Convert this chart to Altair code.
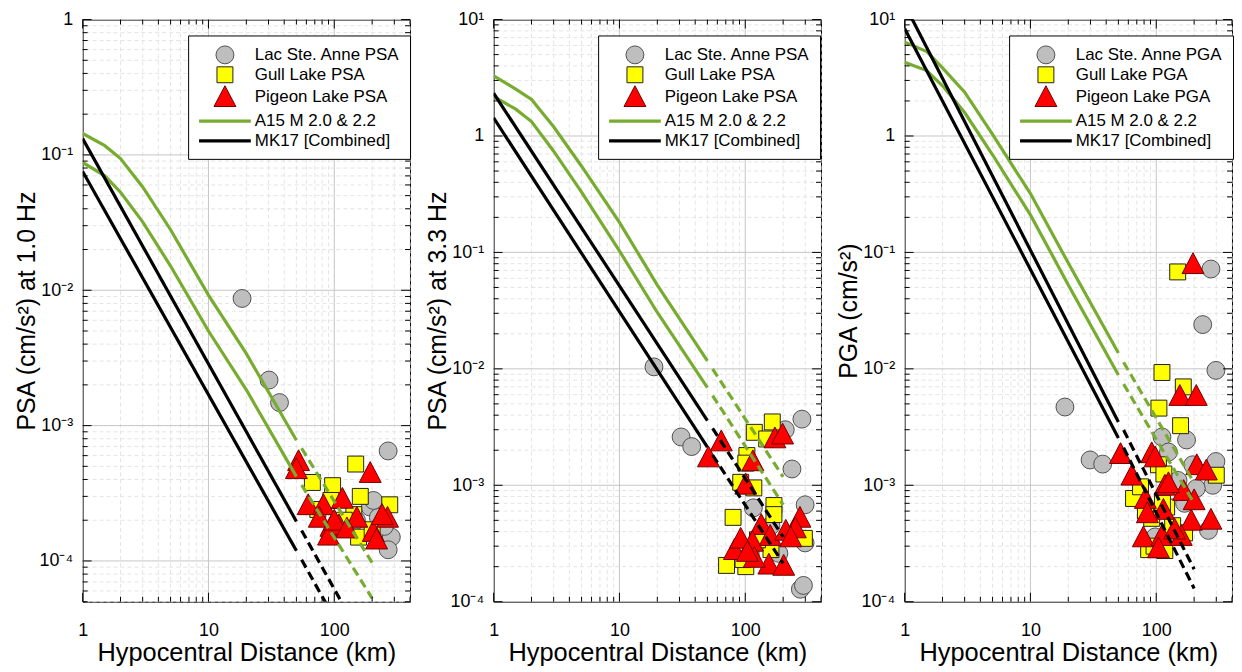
import altair as alt
import pandas as pd

FONT = "Liberation Sans"
W, H = 329, 585

# ---------------- axes / tick labels ----------------
X_DOMAIN = [1, 400]
X_LABEL_VALUES = [1, 10, 100]
X_LABELS = ["1", "10", "100"]
X_TITLE = "Hypocentral Distance (km)"

Y_DOMAIN_1 = [5e-5, 1]
Y_DOMAIN_2 = [1e-4, 10]
Y_DOMAIN_3 = [1e-4, 10]
Y_LABEL_VALUES_1 = [1e-4, 1e-3, 1e-2, 1e-1, 1]
Y_LABELS_1 = ["10⁻⁴", "10⁻³", "10⁻²", "10⁻¹", "1"]
Y_LABEL_VALUES_23 = [1e-4, 1e-3, 1e-2, 1e-1, 1, 10]
Y_LABELS_23 = ["10⁻⁴", "10⁻³", "10⁻²", "10⁻¹", "1", "10¹"]
Y_TITLES = ["PSA (cm/s²) at 1.0 Hz", "PSA (cm/s²) at 3.3 Hz", "PGA (cm/s²)"]

SERIES_1 = ["Lac Ste. Anne PSA", "Gull Lake PSA", "Pigeon Lake PSA", "A15 M 2.0 & 2.2", "MK17 [Combined]"]
SERIES_2 = ["Lac Ste. Anne PSA", "Gull Lake PSA", "Pigeon Lake PSA", "A15 M 2.0 & 2.2", "MK17 [Combined]"]
SERIES_3 = ["Lac Ste. Anne PGA", "Gull Lake PGA", "Pigeon Lake PGA", "A15 M 2.0 & 2.2", "MK17 [Combined]"]

# ---------------- observations ----------------
P1_LSA_D = [18.5, 30.3, 36.7, 268, 193, 224, 284, 268, 250, 150, 205]
P1_LSA_V = [8.7e-3, 2.17e-3, 1.48e-3, 6.5e-4, 2.5e-4, 2.1e-4, 1.5e-4, 1.21e-4, 1.8e-4, 2.0e-4, 2.8e-4]
P1_GL_D = [67, 97, 148, 161, 276, 143, 74, 156, 94, 120, 200]
P1_GL_V = [3.8e-4, 3.6e-4, 5.2e-4, 3.0e-4, 2.6e-4, 2.2e-4, 2.4e-4, 1.5e-4, 2.8e-4, 2.0e-4, 1.7e-4]
P1_PL_D = [52, 50, 193, 62, 82, 116, 151, 94, 109, 90, 204, 265, 76, 100, 126, 217, 240]
P1_PL_V = [5.5e-4, 4.8e-4, 4.5e-4, 2.6e-4, 2.6e-4, 2.9e-4, 2.1e-4, 1.8e-4, 1.85e-4, 1.55e-4,
           1.65e-4, 2.1e-4, 2.1e-4, 2.0e-4, 1.75e-4, 1.45e-4, 2.2e-4]

P2_LSA_D = [18.8, 30.9, 37.5, 282, 208, 235, 299, 116, 299, 274, 290, 185, 160]
P2_LSA_V = [0.0104, 2.6e-3, 2.15e-3, 3.7e-3, 3.0e-3, 1.38e-3, 6.8e-4, 6.4e-4, 3.2e-4, 1.28e-4, 1.38e-4, 2.6e-4, 4.5e-4]
P2_GL_D = [164, 118, 148, 103, 101, 92, 117, 169, 169, 80, 71, 101, 111, 160, 295, 125, 96]
P2_GL_V = [3.5e-3, 2.85e-3, 2.5e-3, 1.8e-3, 1.55e-3, 1.06e-3, 9.5e-4, 6.7e-4, 5.6e-4, 5.3e-4,
           2.05e-4, 2.0e-4, 2.6e-4, 2.8e-4, 3.5e-4, 3.4e-4, 2.3e-4]
P2_PL_D = [51, 64.5, 115, 172, 198, 101, 272, 250, 134, 114, 82, 92, 154, 202, 158, 210, 118, 104, 230]
P2_PL_V = [1.75e-3, 2.4e-3, 1.62e-3, 2.55e-3, 2.75e-3, 1.02e-3, 5.3e-4, 4.3e-4, 4.6e-4, 3.3e-4,
           2.8e-4, 3.5e-4, 2.1e-4, 2.05e-4, 3.7e-4, 4.1e-4, 2.4e-4, 2.7e-4, 3.6e-4]

P3_LSA_D = [18.8, 29.8, 37.5, 272, 234, 298, 174, 111, 125, 298, 281, 260, 168, 149, 208, 98, 195]
P3_LSA_V = [4.7e-3, 1.65e-3, 1.52e-3, 0.072, 0.024, 9.7e-3, 2.45e-3, 2.6e-3, 1.93e-3, 1.6e-3,
            1.0e-3, 4.1e-4, 7.0e-4, 1.1e-3, 9.4e-4, 3.6e-4, 1.5e-3]
P3_GL_D = [148, 111, 164, 105, 156, 300, 66, 75, 104, 115, 92, 87, 117, 168, 121, 112, 96, 82, 135]
P3_GL_V = [0.068, 9.3e-3, 7.0e-3, 4.6e-3, 3.25e-3, 1.22e-3, 7.7e-4, 9.7e-4, 1.5e-3, 1.25e-3,
           5.2e-4, 2.8e-4, 2.75e-4, 3.9e-4, 6.5e-4, 7.0e-4, 3.0e-4, 6.0e-4, 4.5e-4]
P3_PL_D = [196, 154, 208, 52, 92, 98, 64, 210, 250, 117, 165, 200, 82, 114, 85, 190, 272, 79, 111,
           158, 104, 125, 140]
P3_PL_V = [0.080, 5.9e-3, 5.9e-3, 1.87e-3, 1.9e-3, 1.75e-3, 1.22e-3, 1.5e-3, 1.35e-3, 1.0e-3,
           9.0e-4, 7.5e-4, 7.7e-4, 6.2e-4, 5.8e-4, 5.0e-4, 5.1e-4, 3.6e-4, 3.7e-4, 3.7e-4,
           2.9e-4, 1.05e-3, 4.2e-4]

# ---------------- model curves ----------------
A15_D = [1, 1.5, 2, 3, 5, 10, 20, 50]
MK_D = [1, 50]
EXT_D = [55, 200]

P1_A15_M20 = [0.088, 0.070, 0.053, 0.032, 0.0151, 0.0050, 0.00184, 4.2e-4]
P1_A15_M22 = [0.144, 0.117, 0.094, 0.058, 0.028, 0.0092, 0.0034, 7.8e-4]
P1_A15_M20_EXT = [3.64e-4, 5.3e-5]
P1_A15_M22_EXT = [6.8e-4, 9.7e-5]
P1_MK_M20 = [0.0755, 1.19e-4]
P1_MK_M22 = [0.132, 1.96e-4]
P1_MK_M20_EXT = [1.02e-4, 1.2e-5]
P1_MK_M22_EXT = [1.68e-4, 1.95e-5]

P2_A15_M20 = [2.18, 1.70, 1.33, 0.74, 0.33, 0.103, 0.0305, 0.0069]
P2_A15_M22 = [3.29, 2.53, 2.06, 1.20, 0.55, 0.181, 0.0524, 0.0117]
P2_A15_M20_EXT = [5.9e-3, 6.8e-4]
P2_A15_M22_EXT = [0.0100, 1.18e-3]
P2_MK_M20 = [1.43, 2.13e-3]
P2_MK_M22 = [2.33, 3.6e-3]
P2_MK_M20_EXT = [1.82e-3, 2.13e-4]
P2_MK_M22_EXT = [3.08e-3, 3.6e-4]

P3_A15_M20 = [4.3, 3.65, 2.7, 1.59, 0.69, 0.21, 0.0526, 8.85e-3]
P3_A15_M22 = [6.4, 5.3, 3.85, 2.38, 1.03, 0.32, 0.081, 0.0137]
P3_A15_M20_EXT = [7.4e-3, 7.0e-4]
P3_A15_M22_EXT = [0.0114, 1.05e-3]
P3_MK_M20 = [8.4, 2.55e-3]
P3_MK_M22 = [13.5, 3.5e-3]
P3_MK_M20_EXT = [2.1e-3, 1.3e-4]
P3_MK_M22_EXT = [2.98e-3, 1.9e-4]

# ---------------- styles ----------------
FILLS = ["#bebebe", "#ffff00", "#ff0000", "#77ac30", "#000000"]
STROKES = ["#505050", "#202020", "#700000", "#77ac30", "#000000"]
TRI = "M0,-1L1,0.9L-1,0.9Z"
LINE_SYM = "M-2.6,0L2.6,0"
SHAPES = ["circle", "square", TRI, LINE_SYM, LINE_SYM]
SIZES = [324, 256, 484, 400, 400]
STROKE_WIDTHS = [1, 1, 1, 3.2, 3.2]
MAJOR_GRID = "#c6c6c6"
MINOR_GRID = "#e4e4e4"


def label_expr(values, labels):
    parts = [f"abs(datum.value - {v!r}) < {v * 1e-6!r} ? '{l}'" for v, l in zip(values, labels)]
    return " : ".join(parts) + " : ''"


def log_ticks(lo, hi):
    out = []
    for e in range(-6, 3):
        for m in range(1, 10):
            v = m * 10.0 ** e
            if lo * 0.9999 <= v <= hi * 1.0001:
                out.append((v, m == 1))
    return pd.DataFrame(out, columns=["t", "major"])


def panel(names, ydom, yvals, ylabels, ytitle, obs, curves, legend_x):
    xs = alt.Scale(type="log", domain=X_DOMAIN, nice=False)
    ys = alt.Scale(type="log", domain=ydom, nice=False)
    x_axis = alt.Axis(values=X_LABEL_VALUES, labelExpr=label_expr(X_LABEL_VALUES, X_LABELS),
                      title=X_TITLE, titleFontSize=25.5, labelFontSize=18, labelPadding=20,
                      titlePadding=1, labelFlush=False, labelOverlap=False)
    y_axis = alt.Axis(values=yvals, labelExpr=label_expr(yvals, ylabels),
                      title=ytitle, titleFontSize=25, labelFontSize=18, labelPadding=10,
                      titlePadding=0, labelFlush=False, labelOverlap=False)
    X = lambda f: alt.X(f, scale=xs, axis=x_axis)
    Y = lambda f: alt.Y(f, scale=ys, axis=y_axis)

    fill_s = alt.Scale(domain=names, range=FILLS)
    stroke_s = alt.Scale(domain=names, range=STROKES)
    shape_s = alt.Scale(domain=names, range=SHAPES)
    size_s = alt.Scale(type="ordinal", domain=names, range=SIZES)
    sw_s = alt.Scale(type="ordinal", domain=names, range=STROKE_WIDTHS)
    leg = alt.Legend(title=None, orient="none", legendX=legend_x, legendY=16,
                     fillColor="white", strokeColor="black", padding=10,
                     labelFont=FONT, labelFontSize=17, labelColor="black", labelLimit=300,
                     labelExpr="datum.label + '\u00a0\u00a0'",
                     rowPadding=-2, labelOffset=18, symbolOffset=15, symbolOpacity=1)

    rows = []
    k = 0
    for si, (dd, vv) in enumerate(obs):
        for d, v in zip(dd, vv):
            rows.append({"d": d, "v": v, "series": names[si], "k": k})
            k += 1
    pdf = pd.DataFrame(rows)

    lrows = []
    for ci, (series_idx, seg, dd, vv) in enumerate(curves):
        for d, v in zip(dd, vv):
            lrows.append({"d": d, "v": v, "series": names[series_idx], "seg": seg, "curve": ci})
    ldf = pd.DataFrame(lrows)

    xt = log_ticks(*X_DOMAIN)
    yt = log_ticks(*ydom)

    layers = [
        alt.Chart(xt[~xt.major]).mark_rule(color=MINOR_GRID, strokeDash=[4, 3], strokeWidth=1)
        .encode(x=X("t:Q")),
        alt.Chart(yt[~yt.major]).mark_rule(color=MINOR_GRID, strokeDash=[4, 3], strokeWidth=1)
        .encode(y=Y("t:Q")),
        alt.Chart(xt[xt.major]).mark_rule(color=MAJOR_GRID, strokeWidth=1).encode(x=X("t:Q")),
        alt.Chart(yt[yt.major]).mark_rule(color=MAJOR_GRID, strokeWidth=1).encode(y=Y("t:Q")),
    ]

    pts = alt.Chart(pdf).mark_point(filled=True, opacity=1).encode(
        x=X("d:Q"), y=Y("v:Q"),
        fill=alt.Fill("series:N", scale=fill_s, legend=leg),
        stroke=alt.Stroke("series:N", scale=stroke_s, legend=leg),
        shape=alt.Shape("series:N", scale=shape_s, legend=leg),
        size=alt.Size("series:N", scale=size_s, legend=leg),
        strokeWidth=alt.StrokeWidth("series:N", scale=sw_s, legend=leg),
        order=alt.Order("k:Q"),
    )
    layers.append(pts)

    for seg, dash in (("solid", None), ("dashed", [9, 5])):
        kw = {"clip": True}
        if dash:
            kw["strokeDash"] = dash
        layers.append(
            alt.Chart(ldf[ldf.seg == seg]).mark_line(**kw).encode(
                x=X("d:Q"), y=Y("v:Q"),
                stroke=alt.Stroke("series:N", scale=stroke_s, legend=leg),
                strokeWidth=alt.StrokeWidth("series:N", scale=sw_s, legend=leg),
                detail="curve:N",
                order="d:Q",
            )
        )

    # inward MATLAB-style ticks on all four sides
    for major, ln in ((True, 9), (False, 5)):
        xsub = xt[xt.major == major]
        ysub = yt[yt.major == major]
        layers += [
            alt.Chart(ysub).mark_rule(color="black", strokeWidth=1).encode(
                y=Y("t:Q"), x=alt.value(0), x2=alt.value(ln)),
            alt.Chart(ysub).mark_rule(color="black", strokeWidth=1).encode(
                y=Y("t:Q"), x=alt.value(W), x2=alt.value(W - ln)),
            alt.Chart(xsub).mark_rule(color="black", strokeWidth=1).encode(
                x=X("t:Q"), y=alt.value(H), y2=alt.value(H - ln)),
            alt.Chart(xsub).mark_rule(color="black", strokeWidth=1).encode(
                x=X("t:Q"), y=alt.value(0), y2=alt.value(ln)),
        ]

    return alt.layer(*layers).properties(width=W, height=H)


def curves_for(a20, a22, a20e, a22e, m20, m22, m20e, m22e):
    return [
        (3, "solid", A15_D, a20), (3, "solid", A15_D, a22),
        (3, "dashed", EXT_D, a20e), (3, "dashed", EXT_D, a22e),
        (4, "solid", MK_D, m20), (4, "solid", MK_D, m22),
        (4, "dashed", EXT_D, m20e), (4, "dashed", EXT_D, m22e),
    ]


p1 = panel(SERIES_1, Y_DOMAIN_1, Y_LABEL_VALUES_1, Y_LABELS_1, Y_TITLES[0],
           [(P1_LSA_D, P1_LSA_V), (P1_GL_D, P1_GL_V), (P1_PL_D, P1_PL_V)],
           curves_for(P1_A15_M20, P1_A15_M22, P1_A15_M20_EXT, P1_A15_M22_EXT,
                      P1_MK_M20, P1_MK_M22, P1_MK_M20_EXT, P1_MK_M22_EXT), 106)
p2 = panel(SERIES_2, Y_DOMAIN_2, Y_LABEL_VALUES_23, Y_LABELS_23, Y_TITLES[1],
           [(P2_LSA_D, P2_LSA_V), (P2_GL_D, P2_GL_V), (P2_PL_D, P2_PL_V)],
           curves_for(P2_A15_M20, P2_A15_M22, P2_A15_M20_EXT, P2_A15_M22_EXT,
                      P2_MK_M20, P2_MK_M22, P2_MK_M20_EXT, P2_MK_M22_EXT), 105)
p3 = panel(SERIES_3, Y_DOMAIN_3, Y_LABEL_VALUES_23, Y_LABELS_23, Y_TITLES[2],
           [(P3_LSA_D, P3_LSA_V), (P3_GL_D, P3_GL_V), (P3_PL_D, P3_PL_V)],
           curves_for(P3_A15_M20, P3_A15_M22, P3_A15_M20_EXT, P3_A15_M22_EXT,
                      P3_MK_M20, P3_MK_M22, P3_MK_M20_EXT, P3_MK_M22_EXT), 105)

chart = (
    alt.hconcat(p1, p2, p3, spacing=84, bounds="flush")
    .resolve_scale(fill="independent", stroke="independent", shape="independent",
                   size="independent", strokeWidth="independent")
    .properties(padding={"left": 5, "top": 0, "right": 0, "bottom": 0}, background="white")
    .configure_view(stroke="black", strokeWidth=1)
    .configure_axis(labelFont=FONT, titleFont=FONT, labelColor="black", titleColor="black",
                    titleFontWeight="normal", ticks=False, domain=False, grid=False)
)

chart.save("out.html", embed_options={"renderer": "svg", "actions": False})
